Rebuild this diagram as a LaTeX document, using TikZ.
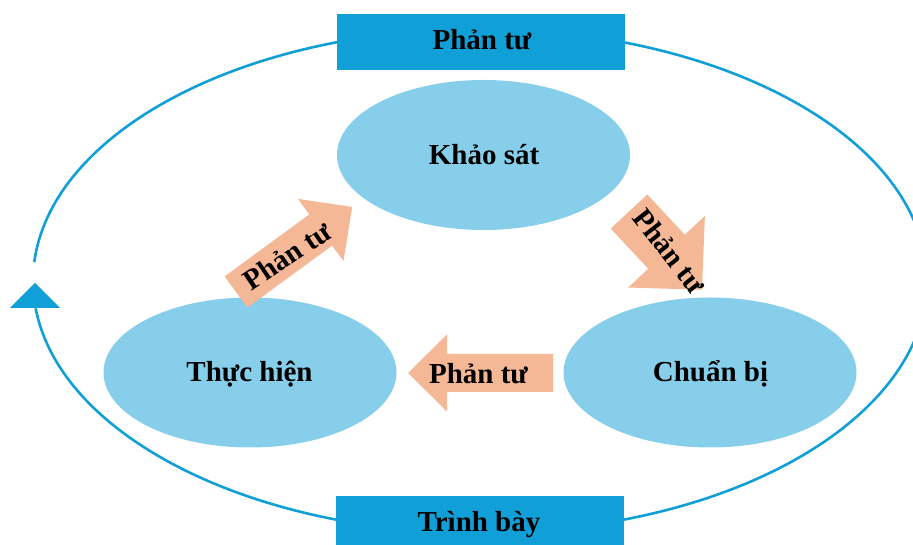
\documentclass[tikz,border=0pt]{standalone}
\usepackage{fontspec}
\setmainfont{Liberation Serif}
\usetikzlibrary{shapes.geometric}
\definecolor{boxblue}{HTML}{109FD6}
\definecolor{ellblue}{HTML}{87CEEB}
\definecolor{arrowfill}{HTML}{F4B896}
\newcommand\myFatArrow[6]{% #1 tail, #2 angle, #3 length, #4 half shaft, #5 half head, #6 head length
  \begin{scope}[shift={#1}, rotate=#2]
    \fill[arrowfill] (0,-#4) -- ({#3-#6},-#4) -- ({#3-#6},-#5) -- (#3,0) -- ({#3-#6},#5) -- ({#3-#6},#4) -- (0,#4) -- cycle;
  \end{scope}}
\begin{document}
\begin{tikzpicture}[x=1pt,y=1pt,
  lbl/.style={font=\bfseries\fontsize{29}{34}\selectfont, inner sep=0pt},
  stage/.style={ellipse, fill=ellblue, minimum width=293pt, minimum height=150pt, inner sep=0pt},
  band/.style={rectangle, fill=boxblue, minimum width=288pt, minimum height=56pt, inner sep=0pt},
  cyc/.style={draw=boxblue, line width=2.6pt}]
\useasboundingbox (0,0) rectangle (913,545);
\clip (0,0) rectangle (913,545);

% outer cycle
\draw[cyc] (480,264) ++(186.2:447pt and 252pt) arc[start angle=186.2, end angle=535.7, x radius=447pt, y radius=252pt];
\fill[boxblue] (35,262) -- (10,237) -- (60,237) -- cycle;

% bands
\node[band] (top) at (481,503) {};
\node[band] (bottom) at (480,21) {};
\node[lbl, anchor=base] (topt) at (482,495) {Phản tư};
\node[lbl, anchor=base] (bottomt) at (479,13.3) {Trình bày};

% stages
\node[stage] (khao) at (483.5,390) {};
\node[stage] (chuan) at (710,172.5) {};
\node[stage] (thuc) at (250,172.5) {};
\node[lbl, anchor=base] (khaot) at (484,380) {Khảo sát};
\node[lbl, anchor=base] (chuant) at (710.5,163.3) {Chuẩn bị};
\node[lbl, anchor=base] (thuct) at (249.5,163.3) {Thực hiện};

% arrows
\myFatArrow{(236,253)}{36.2}{144}{19.3}{38.5}{39}
\myFatArrow{(629,333.5)}{-47}{107}{25}{52.5}{52}
\myFatArrow{(553,172)}{180}{145}{19}{38.5}{39}
\node[lbl, rotate=34] (a1t) at (287,289) {Phản tư};
\node[lbl, rotate=-52] (a2t) at (670,294) {Phản tư};
\node[lbl, anchor=base] (a3t) at (478.5,161) {Phản tư};
\end{tikzpicture}
\end{document}
